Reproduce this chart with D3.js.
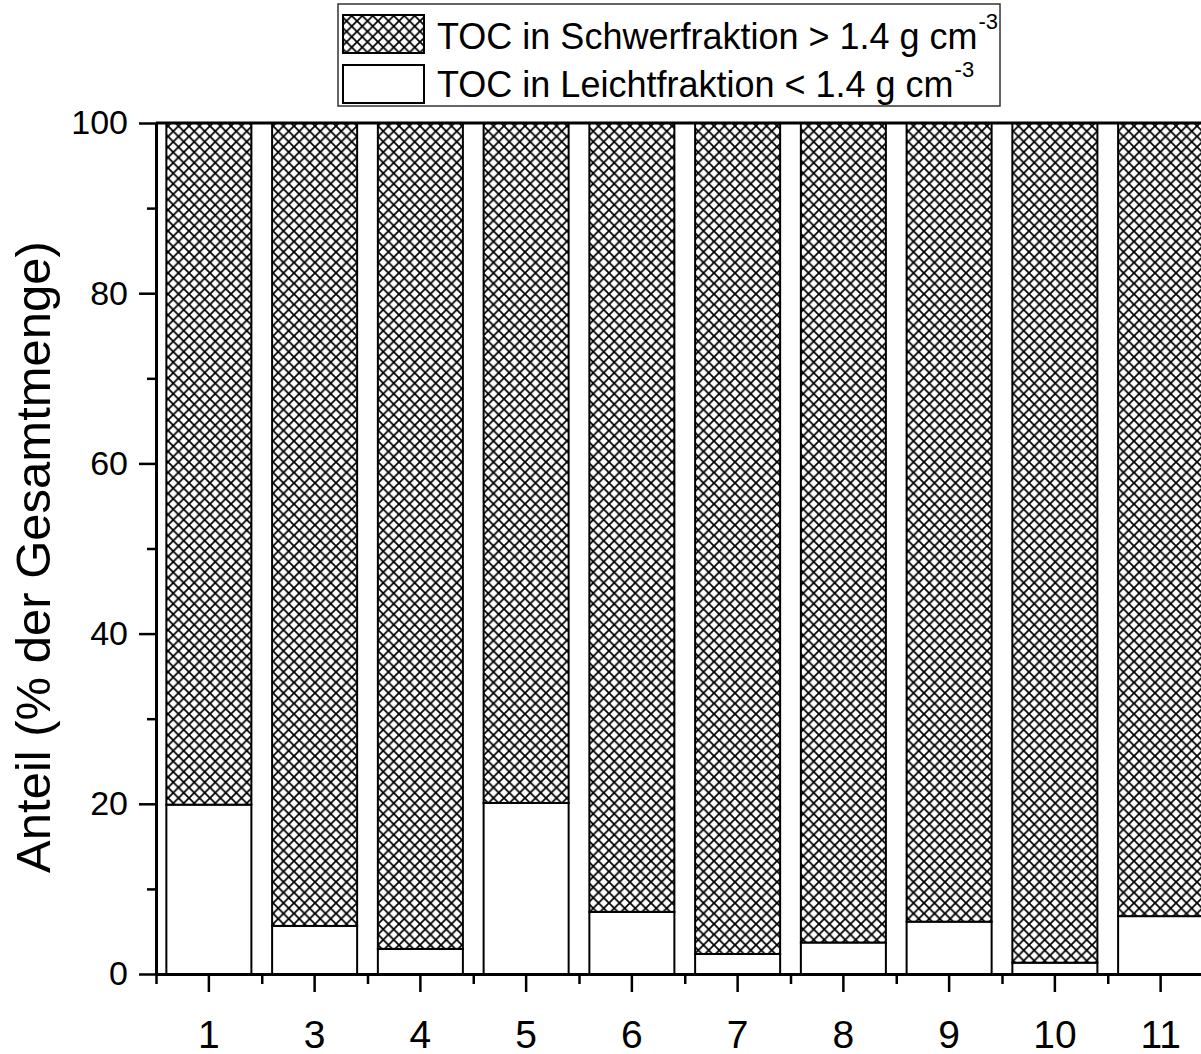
<!DOCTYPE html>
<html>
<head>
<meta charset="utf-8">
<script src="https://cdn.jsdelivr.net/npm/d3@7"></script>
<style>
body { margin: 0; background: #fff; }
svg { display: block; font-family: "Liberation Sans", Arial, sans-serif; }
.axis path, .axis line { stroke: #000; }
</style>
</head>
<body>
<script>
var samples = ["1", "3", "4", "5", "6", "7", "8", "9", "10", "11"];
var leicht = [19.9, 5.65, 2.95, 20.1, 7.3, 2.35, 3.7, 6.15, 1.33, 6.8];
var schwer = leicht.map(function(v){ return 100 - v; });
var yTicks = [0, 20, 40, 60, 80, 100];
var yMinor = [10, 30, 50, 70, 90];

var w = 1201;
var h = 1054;
var padLeft = 156, padTop = 123, padBottom = 974;
var step = 105.75;
var padRight = padLeft + samples.length * step;

var svg = d3.select("body")
			.append("svg")
			.attr("width", w)
			.attr("height", h);

// crosshatch
var pat = svg.append("defs").append("pattern")
	.attr("id", "hatch")
	.attr("patternUnits", "userSpaceOnUse")
	.attr("width", 10.5)
	.attr("height", 10.5);
pat.append("rect").attr("width", 10.5).attr("height", 10.5).attr("fill", "#fff");
pat.append("path")
	.attr("d", "M0,0L10.5,10.5M10.5,0L0,10.5")
	.attr("stroke", "#000")
	.attr("stroke-width", 1.8);

var xScale = d3.scaleBand()
	.domain(samples)
	.range([padLeft, padRight])
	.paddingInner(0.196)
	.paddingOuter(0.098);

var yScale = d3.scaleLinear()
	.domain([0, 100])
	.range([padBottom, padTop]);

var table = samples.map(function(s, i){
	return {sample: s, leicht: leicht[i], schwer: schwer[i]};
});
var series = d3.stack().keys(["leicht", "schwer"])(table);

svg.selectAll("g.layer")
	.data(series)
	.enter()
	.append("g")
	.attr("class", "layer")
	.attr("fill", function(d){ return d.key == "schwer" ? "url(#hatch)" : "#fff"; })
	.selectAll("rect")
	.data(function(d){ return d; })
	.enter()
	.append("rect")
	.attr("x", function(d){ return xScale(d.data.sample); })
	.attr("y", function(d){ return yScale(d[1]); })
	.attr("width", xScale.bandwidth())
	.attr("height", function(d){ return yScale(d[0]) - yScale(d[1]); })
	.attr("stroke", "#000")
	.attr("stroke-width", 2);

// top frame
svg.append("line")
	.attr("x1", padLeft).attr("x2", padRight)
	.attr("y1", padTop).attr("y2", padTop)
	.attr("stroke", "#000")
	.attr("stroke-width", 3);

// x axis: minor ticks at the band edges, major at the centres
var xMinor = d3.scaleLinear().domain([0, samples.length]).range([padLeft, padRight]);
svg.append("g")
	.attr("class", "axis")
	.attr("transform", "translate(0," + padBottom + ")")
	.call(d3.axisBottom(xMinor).tickValues(d3.range(0, samples.length + 1)).tickFormat("").tickSize(10).tickSizeOuter(0))
	.call(function(g){
		g.select(".domain").attr("stroke-width", 3);
		g.selectAll(".tick line").attr("stroke-width", 2.5);
	});

svg.append("g")
	.attr("class", "axis")
	.attr("transform", "translate(0," + padBottom + ")")
	.call(d3.axisBottom(xScale).tickSize(18).tickSizeOuter(0).tickPadding(42))
	.call(function(g){
		g.select(".domain").remove();
		g.selectAll(".tick line").attr("stroke-width", 2.5);
		g.selectAll(".tick text")
			.attr("font-size", 39)
			.attr("font-family", "Liberation Sans, Arial, sans-serif")
			.attr("fill", "#000")
			.attr("dy", "0.35em");
	});

// y axis
svg.append("g")
	.attr("class", "axis")
	.attr("transform", "translate(" + padLeft + ",0)")
	.call(d3.axisLeft(yScale).tickValues(yMinor).tickFormat("").tickSize(9).tickSizeOuter(0))
	.call(function(g){
		g.select(".domain").attr("stroke-width", 3);
		g.selectAll(".tick line").attr("stroke-width", 2.5);
	});

svg.append("g")
	.attr("class", "axis")
	.attr("transform", "translate(" + padLeft + ",0)")
	.call(d3.axisLeft(yScale).tickValues(yTicks).tickSize(17).tickSizeOuter(0).tickPadding(11))
	.call(function(g){
		g.select(".domain").remove();
		g.selectAll(".tick line").attr("stroke-width", 2.5);
		g.selectAll(".tick text")
			.attr("font-size", 34)
			.attr("font-family", "Liberation Sans, Arial, sans-serif")
			.attr("fill", "#000");
	});

svg.append("text")
	.attr("transform", "translate(50," + 557 + ") rotate(-90)")
	.attr("text-anchor", "middle")
	.attr("font-size", 49)
	.text("Anteil (% der Gesamtmenge)");

// legend
var legend = svg.append("g");
legend.append("rect")
	.attr("x", 338).attr("y", 4)
	.attr("width", 662).attr("height", 102)
	.attr("fill", "#fff")
	.attr("stroke", "#333")
	.attr("stroke-width", 1.5);

var legendItems = [
	{fill: "url(#hatch)", label: "TOC in Schwerfraktion > 1.4 g cm"},
	{fill: "#fff", label: "TOC in Leichtfraktion < 1.4 g cm"}
];
legendItems.forEach(function(d, i){
	legend.append("rect")
		.attr("x", 343).attr("y", 15 + i * 50)
		.attr("width", 81).attr("height", 38)
		.attr("fill", d.fill)
		.attr("stroke", "#000")
		.attr("stroke-width", 2);
	var t = legend.append("text")
		.attr("x", 437).attr("y", 49 + i * 48)
		.attr("font-size", 36);
	t.append("tspan").text(d.label);
	t.append("tspan").attr("font-size", 22).attr("dx", 1).attr("dy", -20).text("-3");
});
</script>
</body>
</html>
